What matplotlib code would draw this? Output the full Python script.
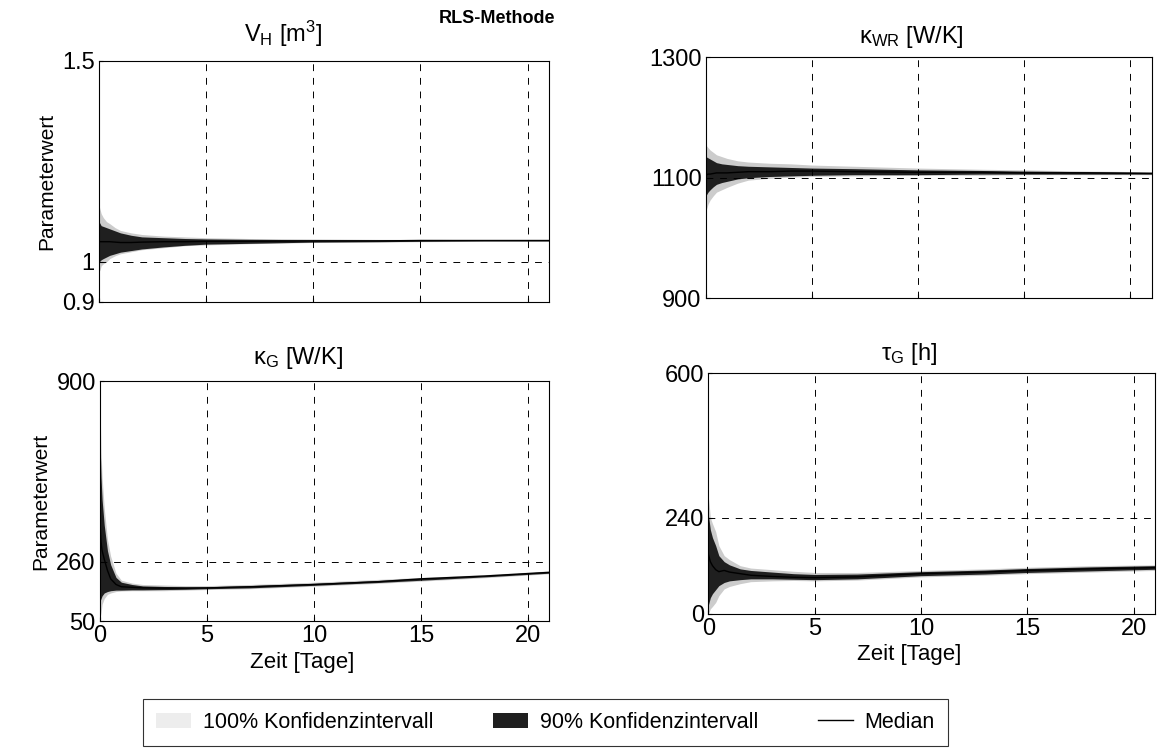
import numpy as np
import matplotlib
matplotlib.use('Agg')
import matplotlib.pyplot as plt
from matplotlib.patches import Patch
from matplotlib.lines import Line2D

plt.rcParams['font.family'] = ['Liberation Sans', 'DejaVu Sans']
plt.rcParams['mathtext.fontset'] = 'custom'
plt.rcParams['mathtext.rm'] = 'Liberation Sans'
plt.rcParams['mathtext.it'] = 'Liberation Sans:italic'

# time axis [days]
t = [0, 0.05, 0.1, 0.2, 0.35, 0.5, 0.75, 1, 1.5, 2, 3, 4, 5, 7, 10, 13, 15, 18, 21]

# V_H [m^3]
vh_med = [1.05, 1.05, 1.05, 1.05, 1.05, 1.05, 1.049, 1.048, 1.048, 1.049, 1.05, 1.05, 1.051, 1.051, 1.052, 1.052, 1.053, 1.053, 1.053]
vh_hi100 = [1.14, 1.13, 1.12, 1.11, 1.10, 1.095, 1.085, 1.078, 1.072, 1.068, 1.064, 1.062, 1.06, 1.058, 1.057, 1.056, 1.056, 1.055, 1.055]
vh_lo100 = [0.975, 0.98, 0.99, 0.995, 1.0, 1.008, 1.015, 1.02, 1.025, 1.03, 1.035, 1.04, 1.042, 1.045, 1.048, 1.049, 1.05, 1.051, 1.051]
vh_hi90 = [1.10, 1.095, 1.09, 1.088, 1.085, 1.082, 1.077, 1.072, 1.066, 1.062, 1.06, 1.058, 1.057, 1.056, 1.055, 1.055, 1.055, 1.054, 1.054]
vh_lo90 = [1.0, 1.002, 1.005, 1.008, 1.012, 1.016, 1.02, 1.024, 1.028, 1.032, 1.037, 1.041, 1.044, 1.046, 1.049, 1.05, 1.051, 1.052, 1.052]

# kappa_WR [W/K]
kwr_med = [1105, 1105, 1106, 1106, 1107, 1108, 1108, 1108, 1109, 1110, 1110, 1111, 1111, 1110, 1109, 1109, 1108, 1108, 1107]
kwr_hi100 = [1155, 1152, 1150, 1146, 1142, 1138, 1135, 1132, 1128, 1126, 1124, 1123, 1121, 1119, 1116, 1114, 1113, 1111, 1110]
kwr_lo100 = [1045, 1050, 1056, 1063, 1070, 1076, 1080, 1084, 1091, 1096, 1099, 1101, 1102, 1103, 1104, 1104, 1105, 1105, 1105]
kwr_hi90 = [1135, 1134, 1133, 1131, 1128, 1125, 1123, 1122, 1120, 1119, 1118, 1117, 1116, 1115, 1113, 1112, 1111, 1110, 1109]
kwr_lo90 = [1070, 1073, 1076, 1080, 1085, 1089, 1092, 1094, 1098, 1100, 1102, 1103, 1104, 1105, 1105, 1106, 1106, 1106, 1106]

# kappa_G [W/K]
kg_med = [400, 330, 300, 270, 230, 200, 180, 172, 170, 168, 167, 167, 168, 172, 180, 190, 200, 210, 223]
kg_hi100 = [830, 650, 560, 450, 340, 280, 220, 195, 185, 180, 178, 176, 176, 180, 188, 198, 205, 215, 228]
kg_lo100 = [60, 80, 110, 130, 145, 150, 155, 157, 158, 158, 158, 160, 162, 165, 174, 184, 192, 204, 218]
kg_hi90 = [700, 560, 480, 390, 300, 250, 205, 188, 180, 175, 173, 172, 172, 176, 184, 194, 202, 212, 226]
kg_lo90 = [120, 130, 140, 150, 155, 158, 160, 160, 161, 161, 162, 163, 165, 168, 177, 187, 195, 207, 220]

# tau_G [h]
tg_med = [150, 140, 130, 120, 110, 105, 108, 104, 100, 96, 93, 91, 90, 92, 100, 104, 108, 112, 115]
tg_hi100 = [295, 270, 240, 225, 205, 170, 145, 135, 120, 114, 110, 106, 103, 103, 108, 112, 116, 120, 122]
tg_lo100 = [0, 5, 12, 18, 28, 45, 62, 68, 75, 80, 82, 83, 82, 84, 92, 96, 100, 104, 108]
tg_hi90 = [250, 230, 210, 190, 170, 145, 130, 122, 112, 108, 104, 100, 98, 99, 105, 109, 113, 117, 120]
tg_lo90 = [20, 30, 40, 50, 60, 70, 78, 82, 85, 87, 87, 86, 85, 87, 95, 99, 103, 107, 111]

titles = [r'V$_{\mathrm{H}}$ [m$^{3}$]', r'κ$_{\mathrm{WR}}$ [W/K]',
          r'κ$_{\mathrm{G}}$ [W/K]', r'τ$_{\mathrm{G}}$ [h]']
yticks = [[0.9, 1, 1.5], [900, 1100, 1300], [50, 260, 900], [0, 240, 600]]
yticklabels = [['0.9', '1', '1.5'], ['900', '1100', '1300'], ['50', '260', '900'], ['0', '240', '600']]
xticks = [0, 5, 10, 15, 20]

panels = [
    (vh_med, vh_hi100, vh_lo100, vh_hi90, vh_lo90),
    (kwr_med, kwr_hi100, kwr_lo100, kwr_hi90, kwr_lo90),
    (kg_med, kg_hi100, kg_lo100, kg_hi90, kg_lo90),
    (tg_med, tg_hi100, tg_lo100, tg_hi90, tg_lo90),
]

# axes rectangles in figure fractions
rects = [
    [0.0853, 0.599, 0.3876, 0.320],
    [0.608, 0.604, 0.384, 0.320],
    [0.0861, 0.175, 0.387, 0.319],
    [0.610, 0.185, 0.385, 0.319],
]
title_x = [0.41, 0.46, 0.44, 0.45]
title_pad = [14, 10, 12, 10]

c100 = '0.8'
c90 = '0.12'

fig = plt.figure(figsize=(11.61, 7.53), dpi=100)

for i in range(4):
    ax = fig.add_axes(rects[i])
    med, hi100, lo100, hi90, lo90 = panels[i]
    ax.fill_between(t, lo100, hi100, color=c100, linewidth=0)
    ax.fill_between(t, lo90, hi90, color=c90, linewidth=0)
    ax.plot(t, med, color='black', linewidth=1.0)

    ax.set_xlim(0, 21)
    ax.set_ylim(yticks[i][0], yticks[i][-1])
    ax.set_xticks(xticks)
    ax.set_yticks(yticks[i])
    ax.set_yticklabels(yticklabels[i])
    ax.grid(True, color='black', linestyle=(0, (7, 7)), linewidth=0.7)
    ax.tick_params(direction='in', length=3, labelsize=17, pad=3)
    for s in ax.spines.values():
        s.set_linewidth(0.8)
    ax.set_title(titles[i], fontsize=17, x=title_x[i], pad=title_pad[i])
    if i < 2:
        ax.set_xticklabels([])
    else:
        ax.set_xlabel('Zeit [Tage]', fontsize=16, x=0.45, labelpad=3)
    if i % 2 == 0:
        ax.set_ylabel('Parameterwert', fontsize=15, labelpad=4)

fig.text(0.428, 0.975, 'RLS-Methode', fontsize=13, fontweight='bold',
         ha='center', va='center')

handles = [Patch(facecolor='0.93', edgecolor='none'),
           Patch(facecolor=c90, edgecolor='none'),
           Line2D([0], [0], color='black', linewidth=1.0)]
labels = ['100% Konfidenzintervall', '90% Konfidenzintervall', 'Median']
leg = fig.legend(handles, labels, loc='center', ncol=3,
                 bbox_to_anchor=(0.47, 0.041), fontsize=15.5,
                 frameon=True, fancybox=False, edgecolor='black',
                 handlelength=1.6, handletextpad=0.55, columnspacing=2.8,
                 borderpad=0.6)
leg.get_frame().set_linewidth(0.8)

fig.savefig('out.png', dpi=100)
